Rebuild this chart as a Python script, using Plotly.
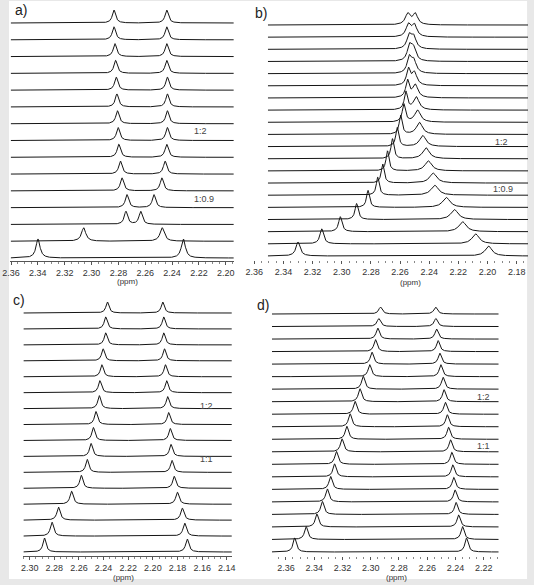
import numpy as np
import plotly.graph_objects as go

W, H = 534, 585

# ---------------- data (peak positions in ppm, spectra listed top -> bottom) ----------------
a_left_ppm = [2.2833, 2.2833, 2.2826, 2.2821, 2.2816, 2.2811, 2.2807, 2.2802, 2.2797, 2.2785, 2.2773, 2.2736, 2.2744, 2.3059, 2.3399]
a_right_ppm = [2.2440, 2.2440, 2.2440, 2.2440, 2.2435, 2.2435, 2.2435, 2.2435, 2.2440, 2.2452, 2.2476, 2.2535, 2.2634, 2.2474, 2.2316]
a_left_h = [13, 13, 13, 13, 13, 13, 13, 13, 13, 13, 13, 13, 13, 13.5, 19]
a_right_h = [13, 13, 13, 13, 13, 13, 13, 13, 13, 13, 13, 13, 13, 13.5, 19]
a_left_w = [0.0015, 0.0015, 0.0015, 0.0015, 0.0015, 0.0015, 0.0015, 0.0015, 0.0015, 0.0015, 0.0015, 0.0015, 0.0015, 0.0019, 0.0018]
a_right_w = [0.0015, 0.0015, 0.0015, 0.0015, 0.0015, 0.0015, 0.0015, 0.0015, 0.0015, 0.0015, 0.0015, 0.0015, 0.0015, 0.0019, 0.0018]

b_left_ppm = [2.2547, 2.2543, 2.2538, 2.2536, 2.2538, 2.2543, 2.2549, 2.2560, 2.2574, 2.2596, 2.2619, 2.2652, 2.2686, 2.2719, 2.2753, 2.2820, 2.2898, 2.3010, 2.3137, 2.3300]
b_right_ppm = [2.2496, 2.2502, 2.2507, 2.2509, 2.2507, 2.2502, 2.2496, 2.2489, 2.2480, 2.2467, 2.2444, 2.2422, 2.2406, 2.2373, 2.2362, 2.2283, 2.2227, 2.2171, 2.2082, 2.1993]
b_left_h = [11, 12, 13, 14, 15, 16, 17, 18, 18, 19, 19, 20, 20, 19, 18, 17, 16, 15, 15, 14]
b_right_h = [11, 12, 12, 13, 13, 13, 13, 13, 12, 12, 11, 11, 10, 10, 10, 10, 10, 10, 10, 10]
b_left_w = [0.0020, 0.0019, 0.0018, 0.0017, 0.0016, 0.0015, 0.0014, 0.0013, 0.0013, 0.0012, 0.0012, 0.0012, 0.0012, 0.0012, 0.0012, 0.0012, 0.0013, 0.0014, 0.0015, 0.0017]
b_right_w = [0.0020, 0.0020, 0.0020, 0.0020, 0.0021, 0.0021, 0.0022, 0.0023, 0.0024, 0.0025, 0.0026, 0.0027, 0.0028, 0.0029, 0.0030, 0.0030, 0.0030, 0.0030, 0.0029, 0.0028]

c_left_ppm = [2.2369, 2.2383, 2.2383, 2.2404, 2.2414, 2.2430, 2.2435, 2.2462, 2.2483, 2.2502, 2.2533, 2.2581, 2.2660, 2.2766, 2.2819, 2.2880]
c_right_ppm = [2.1920, 2.1912, 2.1912, 2.1906, 2.1898, 2.1888, 2.1880, 2.1872, 2.1859, 2.1853, 2.1845, 2.1827, 2.1801, 2.1761, 2.1742, 2.1721]
c_left_h = [11, 12, 12, 12, 12, 12, 13, 13, 13, 13, 13, 13, 13, 13, 14, 14]
c_right_h = [11, 12, 12, 12, 12, 12, 12, 12, 12, 12, 12, 12, 12, 12, 13, 13]
c_left_w = [0.0015, 0.0015, 0.0015, 0.0015, 0.0015, 0.0015, 0.0015, 0.0015, 0.0015, 0.0015, 0.0015, 0.0015, 0.0016, 0.0016, 0.0016, 0.0015]
c_right_w = [0.0015, 0.0015, 0.0015, 0.0015, 0.0015, 0.0015, 0.0015, 0.0015, 0.0015, 0.0015, 0.0015, 0.0015, 0.0016, 0.0016, 0.0016, 0.0016]

d_left_ppm = [2.2931, 2.2943, 2.2950, 2.2966, 2.2991, 2.3007, 2.3053, 2.3076, 2.3111, 2.3146, 2.3169, 2.3203, 2.3243, 2.3256, 2.3284, 2.3307, 2.3342, 2.3381, 2.3457, 2.3538]
d_right_ppm = [2.2541, 2.2539, 2.2534, 2.2523, 2.2511, 2.2504, 2.2488, 2.2481, 2.2472, 2.2458, 2.2449, 2.2435, 2.2426, 2.2419, 2.2412, 2.2403, 2.2396, 2.2378, 2.2350, 2.2322]
d_left_h = [7, 8, 11, 12, 12, 12, 13, 13, 13, 13, 13, 13, 13, 13, 13, 13, 13, 13, 13, 14]
d_right_h = [7, 8, 10, 11, 11, 12, 12, 12, 12, 12, 12, 12, 12, 12, 12, 12, 12, 12, 13, 14]
d_left_w = [0.0015, 0.0015, 0.0014, 0.0014, 0.0014, 0.0014, 0.0014, 0.0014, 0.0014, 0.0014, 0.0014, 0.0014, 0.0014, 0.0014, 0.0014, 0.0014, 0.0014, 0.0014, 0.0014, 0.0014]
d_right_w = [0.0015, 0.0015, 0.0014, 0.0014, 0.0014, 0.0014, 0.0014, 0.0014, 0.0014, 0.0014, 0.0014, 0.0014, 0.0014, 0.0014, 0.0014, 0.0014, 0.0014, 0.0014, 0.0014, 0.0014]

a_ticks = [2.36, 2.34, 2.32, 2.30, 2.28, 2.26, 2.24, 2.22, 2.20]
b_ticks = [2.36, 2.34, 2.32, 2.30, 2.28, 2.26, 2.24, 2.22, 2.20, 2.18]
c_ticks = [2.30, 2.28, 2.26, 2.24, 2.22, 2.20, 2.18, 2.16, 2.14]
d_ticks = [2.36, 2.34, 2.32, 2.30, 2.28, 2.26, 2.24, 2.22]

panel_letters = ["a)", "b)", "c)", "d)"]
ratio_labels = {"a": ["1:2", "1:0.9"], "b": ["1:2", "1:0.9"], "c": ["1:2", "1:1"], "d": ["1:2", "1:1"]}

# ---------------- layout geometry (pixels) ----------------
panels = {
    # name: (axis_left_px, axis_right_px, ppm_at_axis_left, ppm_at_axis_right,
    #        spectra_ppm_left, spectra_ppm_right, y_top_px, y_axis_px, bottom_base_px, top_base_px, showline)
    "a": (2, 231, 2.3608, 2.1940, 2.3601, 2.1940, 2, 261, 258, 23, True),
    "b": (250, 532, 2.3613, 2.1722, 2.3506, 2.1722, 2, 260, 256, 25, False),
    "c": (15, 229, 2.3057, 2.1359, 2.3049, 2.1359, 297, 556, 552, 313, True),
    "d": (270, 502, 2.3699, 2.2094, 2.3699, 2.2094, 297, 556, 552, 314, False),
}
data = {
    "a": (a_left_ppm, a_right_ppm, a_left_h, a_right_h, a_left_w, a_right_w, a_ticks),
    "b": (b_left_ppm, b_right_ppm, b_left_h, b_right_h, b_left_w, b_right_w, b_ticks),
    "c": (c_left_ppm, c_right_ppm, c_left_h, c_right_h, c_left_w, c_right_w, c_ticks),
    "d": (d_left_ppm, d_right_ppm, d_left_h, d_right_h, d_left_w, d_right_w, d_ticks),
}

def lor(x, x0, h, g):
    return h * g * g / ((x - x0) ** 2 + g * g)

fig = go.Figure()
FONT = "Liberation Sans, Arial, sans-serif"

for k, name in enumerate(["a", "b", "c", "d"]):
    xl, xr, pl, pr, sl_ppm, sr_ppm, yt, ya, bb, tb, sl = panels[name]
    L, R, hL, hR, wL, wR, ticks = data[name]
    n = len(L)
    suffix = "" if k == 0 else str(k + 1)
    xgrid = np.linspace(sl_ppm, sr_ppm, 900)
    spacing = (bb - tb) / (n - 1)
    for i in range(n):
        base = (ya - bb) + (n - 1 - i) * spacing
        y = base + lor(xgrid, L[i], hL[i], wL[i]) + lor(xgrid, R[i], hR[i], wR[i])
        fig.add_trace(go.Scatter(x=xgrid, y=y, mode="lines",
                                 line=dict(color="#151515", width=1),
                                 xaxis="x" + suffix, yaxis="y" + suffix,
                                 showlegend=False, hoverinfo="skip"))
    fig.layout["xaxis" + suffix] = dict(
        domain=[xl / W, xr / W], range=[pl, pr], anchor="y" + suffix,
        tickvals=ticks, ticktext=["%.2f" % t for t in ticks],
        ticks="outside", ticklen=3, tickcolor="#555", tickwidth=1,
        minor=dict(ticks="outside", ticklen=2, dtick=0.005, tickcolor="#888"),
        showline=sl, linecolor="#555", linewidth=1,
        showgrid=False, zeroline=False, ticklabeloverflow="allow",
        tickfont=dict(family=FONT, size=9, color="#333"),
        fixedrange=True,
    )
    fig.layout["yaxis" + suffix] = dict(
        domain=[1 - ya / H, 1 - yt / H], range=[0, ya - yt], anchor="x" + suffix,
        visible=False, fixedrange=True,
    )

annotations = []
def ann(text, px, py, size=8, color="#333"):
    annotations.append(dict(text=text, x=px / W, y=1 - py / H, xref="paper", yref="paper",
                            showarrow=False, xanchor="center", yanchor="middle",
                            font=dict(family=FONT, size=size, color=color)))

for letter, (px, py) in zip(panel_letters, [(13, 10), (259, 13), (11, 300), (261, 305)]):
    ann(letter, px, py, size=14, color="#222")

ratio_pos = {"a": [(197, 131), (200, 199)], "b": [(505, 142), (506, 189)],
             "c": [(203, 406), (203, 459)], "d": [(486, 397), (486, 446)]}
for name in ["a", "b", "c", "d"]:
    for t, (px, py) in zip(ratio_labels[name], ratio_pos[name]):
        ann(t, px, py, size=9, color="#444")

for px, py in [(122, 281), (412, 282), (118, 577), (397, 577)]:
    ann("(ppm)", px, py, size=8, color="#333")

fig.update_layout(
    width=W, height=H, margin=dict(l=0, r=0, t=0, b=0),
    paper_bgcolor="#e8e8e8", plot_bgcolor="rgba(0,0,0,0)",
    annotations=annotations,
    shapes=[dict(type="rect", xref="paper", yref="paper", x0=1 / W, x1=531 / W,
                 y0=1 - 579 / H, y1=1 - 1 / H, fillcolor="white", line=dict(width=0), layer="below")],
)

fig.write_html("out.html")
